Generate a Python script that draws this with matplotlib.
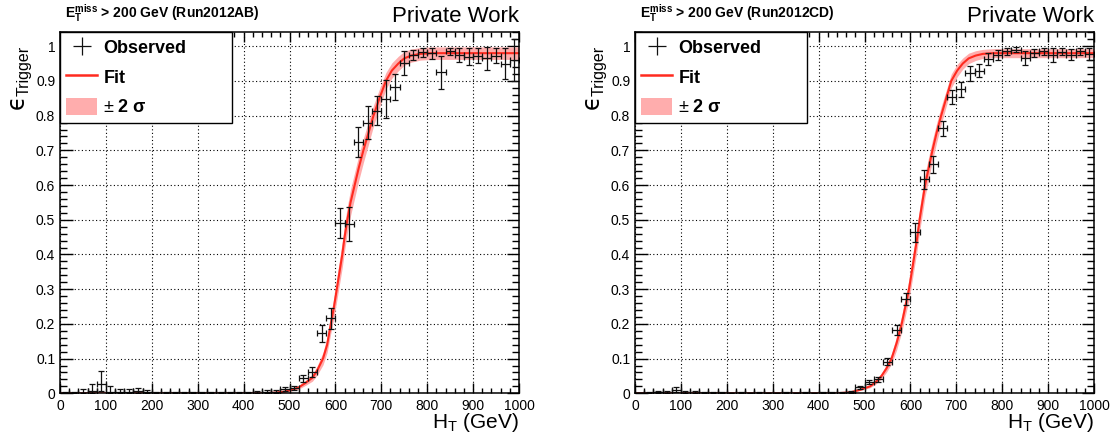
import numpy as np
import matplotlib
matplotlib.use("Agg")
import matplotlib.pyplot as plt
from matplotlib.lines import Line2D
from matplotlib.patches import Patch
from matplotlib.ticker import MultipleLocator, FuncFormatter

plt.rcParams['font.family'] = ['Liberation Sans', 'DejaVu Sans']
plt.rcParams['mathtext.fontset'] = 'custom'
plt.rcParams['mathtext.rm'] = 'Liberation Sans'
plt.rcParams['mathtext.it'] = 'Liberation Sans:italic'
plt.rcParams['mathtext.bf'] = 'Liberation Sans:bold'
plt.rcParams['mathtext.fallback'] = 'stixsans'

# ---------------- data ----------------
bin_centers = list(range(10, 1000, 20))  # H_T bin centres (GeV)
bin_halfwidth = 10

# Run2012AB
eff_ab = [0.0, 0.0, 0.002, 0.006, 0.028, 0.004, 0.003, 0.003, 0.007, 0.003,
          0.001, 0.001, 0.001, 0.0, 0.001, 0.0, 0.001, 0.001, 0.0, 0.001,
          0.001, 0.002, 0.004, 0.004, 0.012, 0.016, 0.043, 0.062, 0.173, 0.216,
          0.49, 0.488, 0.725, 0.78, 0.814, 0.848, 0.883, 0.951, 0.974, 0.982,
          0.98, 0.925, 0.985, 0.975, 0.97, 0.973, 0.965, 0.973, 0.95, 0.96]
err_lo_ab = [0.0, 0.0, 0.002, 0.005, 0.022, 0.004, 0.003, 0.003, 0.006, 0.003,
             0.001, 0.001, 0.001, 0.0, 0.001, 0.0, 0.001, 0.001, 0.0, 0.001,
             0.001, 0.002, 0.003, 0.003, 0.005, 0.006, 0.01, 0.015, 0.025, 0.03,
             0.043, 0.05, 0.043, 0.047, 0.042, 0.054, 0.037, 0.034, 0.015, 0.012,
             0.016, 0.048, 0.01, 0.019, 0.025, 0.022, 0.034, 0.022, 0.044, 0.06]
err_hi_ab = [0.004, 0.004, 0.01, 0.022, 0.037, 0.016, 0.01, 0.01, 0.007, 0.006,
             0.004, 0.004, 0.004, 0.004, 0.004, 0.004, 0.004, 0.004, 0.004, 0.004,
             0.004, 0.005, 0.005, 0.005, 0.005, 0.006, 0.01, 0.015, 0.025, 0.03,
             0.043, 0.05, 0.043, 0.047, 0.042, 0.054, 0.037, 0.034, 0.015, 0.012,
             0.016, 0.048, 0.01, 0.019, 0.025, 0.022, 0.034, 0.022, 0.044, 0.06]

fit_x_ab = [0, 440, 470, 490, 505, 520, 535, 550, 560, 573, 582, 590, 597, 603, 609,
            615, 620, 626, 633, 642, 651, 661, 672, 683, 696, 710, 723, 737, 750,
            765, 785, 810, 850, 1000]
fit_y_ab = [0, 0, 0.002, 0.005, 0.01, 0.017, 0.03, 0.045, 0.065, 0.1, 0.14, 0.2, 0.25,
            0.3, 0.35, 0.4, 0.45, 0.5, 0.55, 0.6, 0.65, 0.7, 0.75, 0.8, 0.85, 0.9,
            0.93, 0.95, 0.965, 0.973, 0.978, 0.98, 0.98, 0.98]
band_hw_ab = [0, 0, 0.001, 0.002, 0.003, 0.005, 0.007, 0.01, 0.013, 0.018, 0.022,
              0.027, 0.03, 0.033, 0.035, 0.037, 0.038, 0.038, 0.038, 0.037, 0.036,
              0.035, 0.033, 0.03, 0.027, 0.024, 0.022, 0.021, 0.02, 0.019, 0.018,
              0.018, 0.018, 0.018]

# Run2012CD
eff_cd = [0.0, 0.001, 0.003, 0.002, 0.01, 0.002, 0.002, 0.001, 0.001, 0.001,
          0.0, 0.001, 0.0, 0.001, 0.0, 0.0, 0.001, 0.0, 0.001, 0.0,
          0.001, 0.002, 0.002, 0.003, 0.017, 0.032, 0.040, 0.091, 0.182, 0.271,
          0.464, 0.617, 0.66, 0.764, 0.853, 0.876, 0.922, 0.93, 0.963, 0.975,
          0.985, 0.99, 0.967, 0.98, 0.985, 0.975, 0.984, 0.976, 0.985, 0.978]
err_lo_cd = [0.0, 0.001, 0.003, 0.002, 0.006, 0.002, 0.002, 0.001, 0.001, 0.001,
             0.0, 0.001, 0.0, 0.001, 0.0, 0.0, 0.001, 0.0, 0.001, 0.0,
             0.001, 0.002, 0.002, 0.002, 0.005, 0.006, 0.007, 0.01, 0.015, 0.018,
             0.027, 0.027, 0.025, 0.022, 0.02, 0.022, 0.022, 0.02, 0.017, 0.014,
             0.01, 0.008, 0.02, 0.012, 0.01, 0.019, 0.01, 0.017, 0.01, 0.017]
err_hi_cd = [0.002, 0.003, 0.004, 0.004, 0.008, 0.004, 0.004, 0.003, 0.003, 0.003,
             0.002, 0.002, 0.002, 0.002, 0.002, 0.002, 0.002, 0.002, 0.002, 0.002,
             0.002, 0.003, 0.003, 0.003, 0.005, 0.006, 0.007, 0.01, 0.015, 0.018,
             0.027, 0.027, 0.025, 0.022, 0.02, 0.022, 0.022, 0.02, 0.017, 0.014,
             0.01, 0.008, 0.02, 0.012, 0.01, 0.019, 0.01, 0.017, 0.01, 0.017]

fit_x_cd = [0, 440, 470, 490, 512, 525, 537, 548, 559, 570, 581, 589, 597, 603, 609,
            615, 620, 626, 632, 640, 648, 657, 667, 678, 689, 702, 714, 727, 742,
            758, 780, 810, 850, 1000]
fit_y_cd = [0, 0, 0.003, 0.01, 0.02, 0.033, 0.05, 0.072, 0.1, 0.145, 0.2, 0.25, 0.3,
            0.35, 0.4, 0.45, 0.5, 0.55, 0.6, 0.65, 0.7, 0.75, 0.8, 0.85, 0.9, 0.93,
            0.95, 0.965, 0.973, 0.978, 0.98, 0.98, 0.98, 0.98]
band_hw_cd = [0, 0, 0.001, 0.002, 0.004, 0.006, 0.008, 0.011, 0.015, 0.02, 0.024,
              0.027, 0.03, 0.032, 0.033, 0.034, 0.034, 0.034, 0.033, 0.032, 0.03,
              0.028, 0.026, 0.023, 0.02, 0.018, 0.016, 0.015, 0.014, 0.013, 0.013,
              0.013, 0.013, 0.013]

titles = ['Run2012AB', 'Run2012CD']
legend_labels = ['Observed', 'Fit', r'$\pm$ $\mathbf{2}$ $\mathregular{\sigma}$']

# ---------------- figure ----------------
W, H = 1112, 436
fig = plt.figure(figsize=(W / 100, H / 100), dpi=100)

ax_w = 459 / W
ax_h = 361.3 / H
ax_b = (H - 393.3) / H
lefts = [60 / W, 635 / W]

panels = [
    (eff_ab, err_lo_ab, err_hi_ab, fit_x_ab, fit_y_ab, band_hw_ab, titles[0]),
    (eff_cd, err_lo_cd, err_hi_cd, fit_x_cd, fit_y_cd, band_hw_cd, titles[1]),
]

fit_color = '#ff2a1f'
band_color = '#ffadad'

for left, (eff, elo, ehi, fx, fy, hw, run) in zip(lefts, panels):
    ax = fig.add_axes([left, ax_b, ax_w, ax_h])
    fx_a = np.array(fx, dtype=float)
    fy_a = np.array(fy, dtype=float)
    hw_a = np.array(hw, dtype=float)
    ax.fill_between(fx_a, fy_a - hw_a, fy_a + hw_a, color=band_color, lw=0, zorder=2)
    ax.plot(fx_a, fy_a, color=fit_color, lw=1.5, zorder=3)
    ax.errorbar(bin_centers, eff, xerr=bin_halfwidth, yerr=[elo, ehi], fmt='none',
                ecolor='#111111', elinewidth=0.9, capsize=2, capthick=0.9, zorder=4)
    # legend proxy for the observed points (cross without caps)
    h_obs = ax.errorbar([np.nan], [np.nan], xerr=1, yerr=1, fmt='none',
                        ecolor='#111111', elinewidth=0.9, capsize=0)

    ax.set_xlim(0, 1000)
    ax.set_ylim(0, 1.041)
    ax.xaxis.set_major_locator(MultipleLocator(100))
    ax.xaxis.set_minor_locator(MultipleLocator(20))
    ax.yaxis.set_major_locator(MultipleLocator(0.1))
    ax.yaxis.set_minor_locator(MultipleLocator(0.02))
    ax.yaxis.set_major_formatter(FuncFormatter(lambda v, p: '%g' % round(v, 2)))
    ax.tick_params(axis='both', which='both', direction='in', top=True, right=True,
                   labelsize=10, width=1, colors='black')
    ax.tick_params(axis='x', which='major', length=7.2, pad=4)
    ax.tick_params(axis='x', which='minor', length=3.6)
    ax.tick_params(axis='y', which='major', length=9, pad=3.5)
    ax.tick_params(axis='y', which='minor', length=5)
    ax.grid(True, which='major', color='black', linestyle=(0, (1, 2.2)), linewidth=0.8)
    ax.set_axisbelow(True)
    for s in ax.spines.values():
        s.set_linewidth(1.1)
        s.set_zorder(6)

    ax.text(0.011, 1.022, r'$\mathbf{E}_{\mathbf{T}}^{\mathbf{miss}}$ > 200 GeV (' + run + ')',
            transform=ax.transAxes, fontsize=10, fontweight='bold', ha='left', va='bottom')
    ax.text(1.0, 1.015, 'Private Work', transform=ax.transAxes, fontsize=16,
            ha='right', va='bottom')
    ax.text(1.0, -0.05, r'H$_{\mathregular{T}}$ (GeV)', transform=ax.transAxes,
            fontsize=15, ha='right', va='top')

    # y label: lunate epsilon with subscript "Trigger"
    x0 = left * W
    fig.text((x0 - 43) / W, (H - 102) / H, '\u03f5', family='DejaVu Sans',
             fontsize=17, rotation=90, ha='center', va='center')
    fig.text((x0 - 36) / W, (H - 96) / H, 'Trigger', fontsize=11.5,
             rotation=90, ha='center', va='bottom')

    h_fit = Line2D([], [], color=fit_color, lw=1.8)
    h_band = Patch(facecolor=band_color, edgecolor='none')
    leg = ax.legend([h_obs, h_fit, h_band], legend_labels,
                    loc='upper left', bbox_to_anchor=(0, 0.75, 0.375, 0.25),
                    mode='expand', borderaxespad=0, fancybox=False, framealpha=1,
                    edgecolor='black', prop={'weight': 'bold', 'size': 13},
                    handlelength=1.7, handleheight=1.1, handletextpad=0.35,
                    labelspacing=0.6, borderpad=0.35)
    leg.get_frame().set_linewidth(1.0)
    leg.set_zorder(10)

fig.savefig('out.png', dpi=100)
